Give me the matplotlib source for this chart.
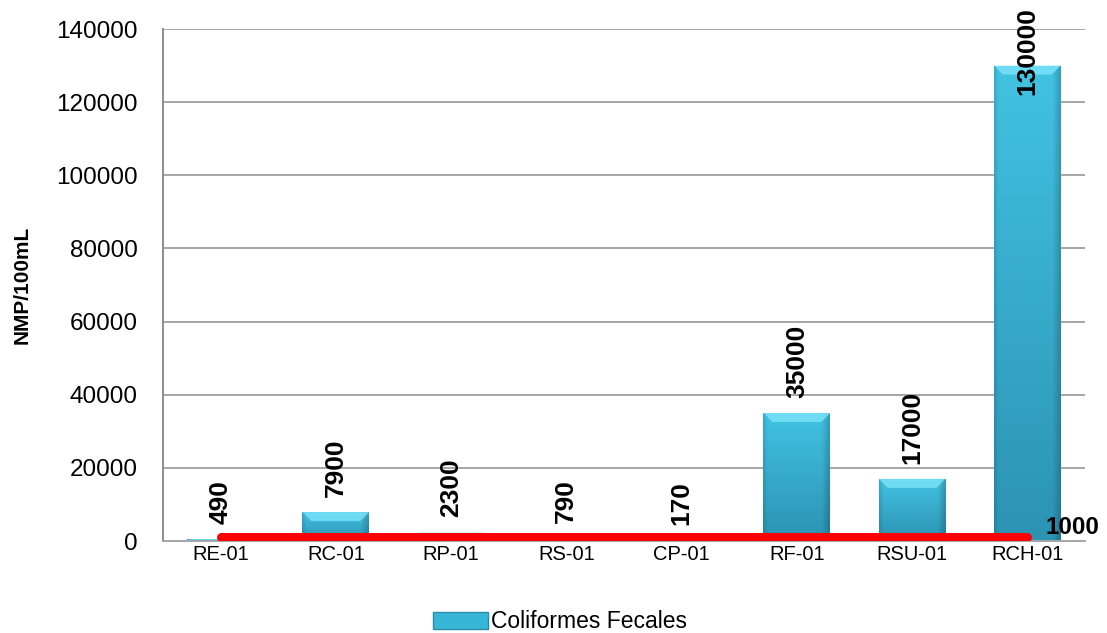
import numpy as np
import matplotlib
matplotlib.use('Agg')
import matplotlib.pyplot as plt
from matplotlib.patches import Polygon, Patch

# ---- data ----
estaciones = ['RE-01', 'RC-01', 'RP-01', 'RS-01', 'CP-01', 'RF-01', 'RSU-01', 'RCH-01']
coliformes = [490, 7900, 2300, 790, 170, 35000, 17000, 130000]
limite_valor = 1000
y_ticks = [0, 20000, 40000, 60000, 80000, 100000, 120000, 140000]
serie_nombre = 'Coliformes Fecales'
eje_y = 'NMP/100mL'

lbl_font = ['Liberation Sans', 'DejaVu Sans']
lbl_size = 19
plt.rcParams['font.family'] = ['Liberation Sans', 'DejaVu Sans']

W, H = 1107, 633
fig = plt.figure(figsize=(W / 100, H / 100), dpi=100)
ax = fig.add_axes([163 / W, 92 / H, 922 / W, 512 / H])

x = np.arange(len(estaciones))
bw = 0.58
ymax = y_ticks[-1]
ax.set_xlim(-0.5, len(estaciones) - 0.5)
ax.set_ylim(0, ymax)
dy_px = ymax / 512.0
dx_px = (len(estaciones)) / 922.0

bars = ax.bar(x, coliformes, width=bw, color='#38b6d8', zorder=2, linewidth=0)

# gradient image for bars
nx, ny = 60, 60
tx = np.linspace(0, 1, nx)
ty = np.linspace(0, 1, ny)[:, None]  # 0 top -> 1 bottom
top_c = np.array([0x42, 0xc2, 0xe2]) / 255
bot_c = np.array([0x2c, 0x93, 0xb3]) / 255
horiz = np.ones(nx)
horiz = horiz * np.where(tx < 0.06, 0.88 + 2.0 * tx, 1.0)
horiz = horiz * np.where(tx > 0.88, 1.0 - 1.6 * (tx - 0.88), 1.0)
for rect, v in zip(bars, coliformes):
    x0 = rect.get_x()
    x1 = x0 + rect.get_width()
    col = top_c[None, None, :] * (1 - ty[..., None]) + bot_c[None, None, :] * ty[..., None]
    img = np.clip(col * horiz[None, :, None], 0, 1)
    im = ax.imshow(img, extent=[x0, x1, 0, v], aspect='auto', zorder=2.1,
                   origin='upper', interpolation='bilinear')
    im.set_clip_path(rect)
    # bevel on top
    bh = min(9 * dy_px, v * 0.6)
    bx = 9 * dx_px
    poly = Polygon([[x0, v], [x1, v], [x1 - bx, v - bh], [x0 + bx, v - bh]],
                   closed=True, facecolor='#7fe6fa', edgecolor='none', alpha=0.75, zorder=2.2)
    ax.add_patch(poly)

ax.set_xlim(-0.5, len(estaciones) - 0.5)
ax.set_ylim(0, ymax)

# limit line
ax.plot(x, [limite_valor] * len(x), color='#ff0000', lw=6.5, solid_capstyle='round', zorder=3)
ax.annotate(str(limite_valor), (x[-1], limite_valor), xytext=(13, 7), textcoords='offset points',
            ha='left', va='center', fontsize=17.5, fontweight='bold', family=lbl_font,
            annotation_clip=False, zorder=4)

# value labels
for xi, v in zip(x, coliformes):
    top_px = ax.transData.transform((xi, v))[1]
    if top_px + 12 + 95 > H:
        ax.annotate(str(v), xy=(xi, H - 7), xycoords=('data', 'figure pixels'),
                    ha='center', va='top', rotation=90, fontsize=lbl_size,
                    fontweight='bold', family=lbl_font, annotation_clip=False, zorder=4)
    else:
        ax.annotate(str(v), (xi, v), xytext=(0, 11), textcoords='offset points',
                    ha='center', va='bottom', rotation=90, fontsize=lbl_size,
                    fontweight='bold', family=lbl_font, zorder=4)

ax.set_yticks(y_ticks)
ax.set_yticklabels([str(t) for t in y_ticks])
ax.set_xticks(x)
ax.set_xticklabels(estaciones)
ax.tick_params(axis='y', length=0, pad=18, labelsize=17.5)
ax.tick_params(axis='x', length=0, pad=3, labelsize=14.5)

ax.grid(axis='y', color='#a6a6a6', lw=1.4)
ax.set_axisbelow(True)
for s in ['top', 'right']:
    ax.spines[s].set_visible(False)
ax.spines['left'].set_color('#8c8c8c')
ax.spines['left'].set_linewidth(1.4)
ax.spines['bottom'].set_color('#a6a6a6')
ax.spines['bottom'].set_linewidth(1.4)

fig.text(22 / W, 1 - 285 / H, eje_y, rotation=90, ha='center', va='center',
         fontsize=15, fontweight='bold', family=lbl_font)

handle = Patch(facecolor='#38b6d8', edgecolor='#2a8aa8', linewidth=1.0)
fig.legend([handle], [serie_nombre], loc='center', bbox_to_anchor=(560 / W, 1 - 622 / H),
           frameon=False, fontsize=16.5, handlelength=2.4, handleheight=0.7,
           handletextpad=0.1, borderaxespad=0)

fig.savefig('out.png', dpi=100)
